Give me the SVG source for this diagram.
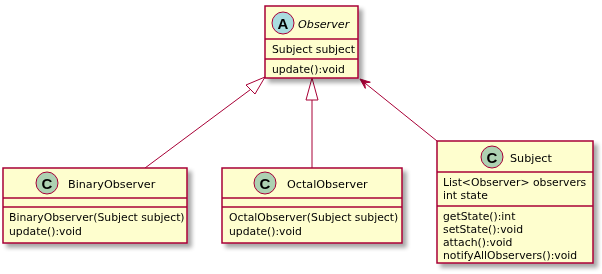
<svg xmlns="http://www.w3.org/2000/svg" width="602" height="274" viewBox="0 0 602 274">
<defs>
<filter id="sh" x="-10%" y="-10%" width="130%" height="130%">
<feGaussianBlur in="SourceAlpha" stdDeviation="2"/>
<feOffset dx="4" dy="4" result="b"/>
<feComponentTransfer><feFuncA type="linear" slope="0.35"/></feComponentTransfer>
<feMerge><feMergeNode/><feMergeNode in="SourceGraphic"/></feMerge>
</filter>
</defs>
<style>
.box{fill:#FEFECE;stroke:#A80036;stroke-width:1.5}
.sep{stroke:#A80036;stroke-width:1.5}
.ln{fill:none;stroke:#A80036;stroke-width:1}
.head{fill:none;stroke:#A80036;stroke-width:1}
.name{font-family:"DejaVu Sans","Liberation Sans",sans-serif;font-size:11.2px;fill:#000}
.attr{font-family:"DejaVu Sans","Liberation Sans",sans-serif;font-size:10.8px;fill:#000}
.cc{fill:#ADD1B2;stroke:#A80036;stroke-width:1}
.ca{fill:#A9DCDF;stroke:#A80036;stroke-width:1}
.glyph{font-family:"Liberation Sans",Arial,sans-serif;font-size:15px;font-weight:bold;fill:#000}
</style>
<g id="connectors">
<line class="ln" x1="145" y1="168" x2="250.5" y2="89.5"/>
<polygon class="head" points="265,77 246,85 255,94"/>
<line class="ln" x1="312" y1="168" x2="312" y2="100"/>
<polygon class="head" points="312,78 306,100 318,100"/>
<line class="ln" x1="437" y1="141" x2="363" y2="81.5"/>
<polygon points="360,79 365.3,88.4 364.7,82.8 370.3,82.2" fill="#A80036" stroke="#A80036" stroke-width="1"/>
</g>
<g id="Observer" filter="url(#sh)">
<rect class="box" x="265" y="6" width="93" height="72"/>
<line class="sep" x1="265" y1="39" x2="358" y2="39"/>
<line class="sep" x1="265" y1="59" x2="358" y2="59"/>
<circle class="ca" cx="283" cy="23" r="11"/>
<text class="glyph" x="283" y="28.5" text-anchor="middle">A</text>
<text class="name" x="298" y="27.5" font-style="italic">Observer</text>
<text class="attr" x="272" y="53">Subject subject</text>
<text class="attr" x="272" y="73">update():void</text>
</g>
<g id="BinaryObserver" filter="url(#sh)">
<rect class="box" x="3" y="168" width="184" height="75"/>
<line class="sep" x1="3" y1="198" x2="187" y2="198"/>
<line class="sep" x1="3" y1="207" x2="187" y2="207"/>
<circle class="cc" cx="47" cy="183" r="11"/>
<text class="glyph" x="47" y="188.5" text-anchor="middle">C</text>
<text class="name" x="68" y="187.5">BinaryObserver</text>
<text class="attr" x="9" y="221">BinaryObserver(Subject subject)</text>
<text class="attr" x="9" y="235">update():void</text>
</g>
<g id="OctalObserver" filter="url(#sh)">
<rect class="box" x="222" y="168" width="180" height="75"/>
<line class="sep" x1="222" y1="198" x2="402" y2="198"/>
<line class="sep" x1="222" y1="207" x2="402" y2="207"/>
<circle class="cc" cx="265" cy="183" r="11"/>
<text class="glyph" x="265" y="188.5" text-anchor="middle">C</text>
<text class="name" x="287" y="187.5">OctalObserver</text>
<text class="attr" x="229" y="221">OctalObserver(Subject subject)</text>
<text class="attr" x="229" y="235">update():void</text>
</g>
<g id="Subject" filter="url(#sh)">
<rect class="box" x="437" y="141" width="156" height="122"/>
<line class="sep" x1="437" y1="172" x2="593" y2="172"/>
<line class="sep" x1="437" y1="206" x2="593" y2="206"/>
<circle class="cc" cx="492" cy="157" r="11"/>
<text class="glyph" x="492" y="162.5" text-anchor="middle">C</text>
<text class="name" x="510" y="161.5">Subject</text>
<text class="attr" x="443" y="186">List&lt;Observer&gt; observers</text>
<text class="attr" x="443" y="199">int state</text>
<text class="attr" x="443" y="220">getState():int</text>
<text class="attr" x="443" y="233">setState():void</text>
<text class="attr" x="443" y="246">attach():void</text>
<text class="attr" x="443" y="259">notifyAllObservers():void</text>
</g>
</svg>
